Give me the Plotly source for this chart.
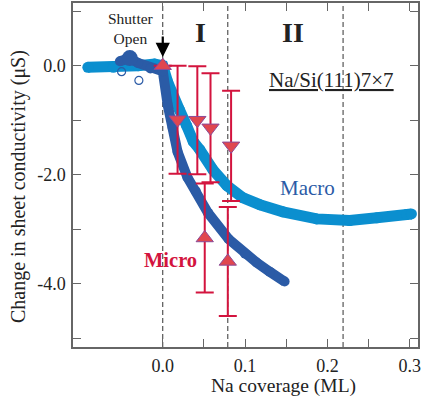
import plotly.graph_objects as go

# ---- data ----
macro_light_x = [-0.091, -0.06, -0.03, -0.01, 0.0, 0.006, 0.012, 0.02, 0.029, 0.037, 0.045,
                 0.061, 0.078, 0.097, 0.118, 0.146, 0.187, 0.227, 0.26, 0.296, 0.302]
macro_light_y = [-0.03, -0.03, 0.0, 0.03, 0.0, -0.3, -0.57, -0.8, -1.1, -1.39, -1.54,
                 -1.91, -2.2, -2.42, -2.55, -2.68, -2.81, -2.84, -2.79, -2.73, -2.72]

macro_dark_x = [-0.052, -0.04, -0.03, -0.015, 0.0, 0.006, 0.012, 0.018, 0.03, 0.04,
                0.055, 0.08, 0.1, 0.114, 0.13, 0.148]
macro_dark_y = [0.08, 0.14, 0.05, -0.05, -0.1, -0.72, -1.14, -1.58, -2.05, -2.3,
                -2.7, -3.18, -3.45, -3.61, -3.78, -3.96]

stray_x = [-0.05, -0.029]
stray_y = [-0.11, -0.27]

micro_x = [0.0, 0.018, 0.042, 0.058, 0.083, 0.051, 0.079]
micro_y = [0.0, -0.99, -1.0, -1.14, -1.47, -3.16, -3.59]
micro_err = [0.0, 0.99, 0.99, 1.0, 1.01, 1.0, 1.0]
micro_sym = ["triangle-up", "triangle-down", "triangle-down", "triangle-down",
             "triangle-down", "triangle-up", "triangle-up"]

x_tickvals = [0.0, 0.05, 0.1, 0.15, 0.2, 0.25, 0.3]
x_ticktext = ["0.0", "", "0.1", "", "0.2", "", "0.3"]
y_tickvals = [1.0, 0.0, -1.0, -2.0, -3.0, -4.0, -5.0]
y_ticktext = ["", "0.0", "", "-2.0", "", "-4.0", ""]

region_lines = [0.0, 0.079, 0.219]

LIGHT = "#0b8fcf"
DARK = "#2b5ba6"
RED = "#d3143e"
FONT = "Liberation Serif"

# plot area in pixels (from the reference)
L, R, T, B = 73, 418, 3, 347
W, H = 424, 401

def px_x(p):
    return (p - L) / (R - L)

def px_y(p):
    return 1 - (p - T) / (B - T)

fig = go.Figure()

fig.add_trace(go.Scatter(x=macro_light_x, y=macro_light_y, mode="lines+markers",
                         line=dict(color=LIGHT, width=11),
                         marker=dict(color=LIGHT, size=11), showlegend=False))
fig.add_trace(go.Scatter(x=macro_dark_x, y=macro_dark_y, mode="lines+markers",
                         line=dict(color=DARK, width=10),
                         marker=dict(color=DARK, size=10), showlegend=False))
fig.add_trace(go.Scatter(x=[macro_dark_x[1]], y=[macro_dark_y[1]], mode="markers",
                         marker=dict(color=DARK, size=16), showlegend=False))
fig.add_trace(go.Scatter(x=stray_x, y=stray_y, mode="markers",
                         marker=dict(symbol="circle-open", color=DARK, size=8,
                                     line=dict(width=1.2)), showlegend=False))
fig.add_trace(go.Scatter(x=micro_x, y=micro_y, mode="markers",
                         error_y=dict(type="data", array=micro_err, visible=True,
                                      color=RED, thickness=2, width=9),
                         marker=dict(symbol=micro_sym, size=15, color="#e0474f",
                                     line=dict(color="#8b4a98", width=1)),
                         showlegend=False))

for xv in region_lines:
    fig.add_shape(type="line", xref="x", yref="paper", x0=xv, x1=xv, y0=0, y1=1,
                  line=dict(color="#333333", width=1, dash="5px,3px"), layer="below")

fig.add_annotation(x=0.0, y=0.16, ax=0, ay=-22, showarrow=True, arrowhead=2,
                   arrowsize=1.3, arrowwidth=2.2, arrowcolor="black", text="")


def label(px, py, text, size, color="#222", angle=0):
    fig.add_annotation(xref="paper", yref="paper", x=px_x(px), y=px_y(py),
                       xanchor="center", yanchor="middle", text=text,
                       showarrow=False, textangle=angle, align="center",
                       font=dict(family=FONT, size=size, color=color))


label(131, 28, "Shutter<br>Open", 15.5)
label(200, 32, "<b>I</b>", 28)
label(293, 32, "<b>II</b>", 28)
label(331, 80, "<u>Na/Si(111)7×7</u>", 21)
label(307, 188, "Macro", 21, DARK)
label(170, 260, "<b>Micro</b>", 20.5, RED)
label(283, 386, "Na coverage (ML)", 19.5)
label(19, 187, "Change in sheet conductivity (μS)", 20, angle=-90)

axis_common = dict(showgrid=False, zeroline=False, showline=True, linecolor="#666666",
                   linewidth=1.5, mirror="ticks", ticks="inside", ticklen=8,
                   tickwidth=1.2, tickcolor="#666666",
                   tickfont=dict(family=FONT, size=18, color="#222"))

fig.update_xaxes(range=[-0.109, 0.31], tickvals=x_tickvals, ticktext=x_ticktext,
                 ticklabelstandoff=2, **axis_common)
fig.update_yaxes(range=[-5.16, 1.15], tickvals=y_tickvals, ticktext=y_ticktext,
                 ticklabelstandoff=2, **axis_common)

fig.update_layout(width=W, height=H,
                  margin=dict(l=L, r=W - R, t=T, b=H - B, autoexpand=False),
                  plot_bgcolor="white", paper_bgcolor="white",
                  font=dict(family=FONT))

fig.write_html("out.html", config={"displayModeBar": False},
               post_script="document.body.style.margin='0';document.body.style.padding='0';")
